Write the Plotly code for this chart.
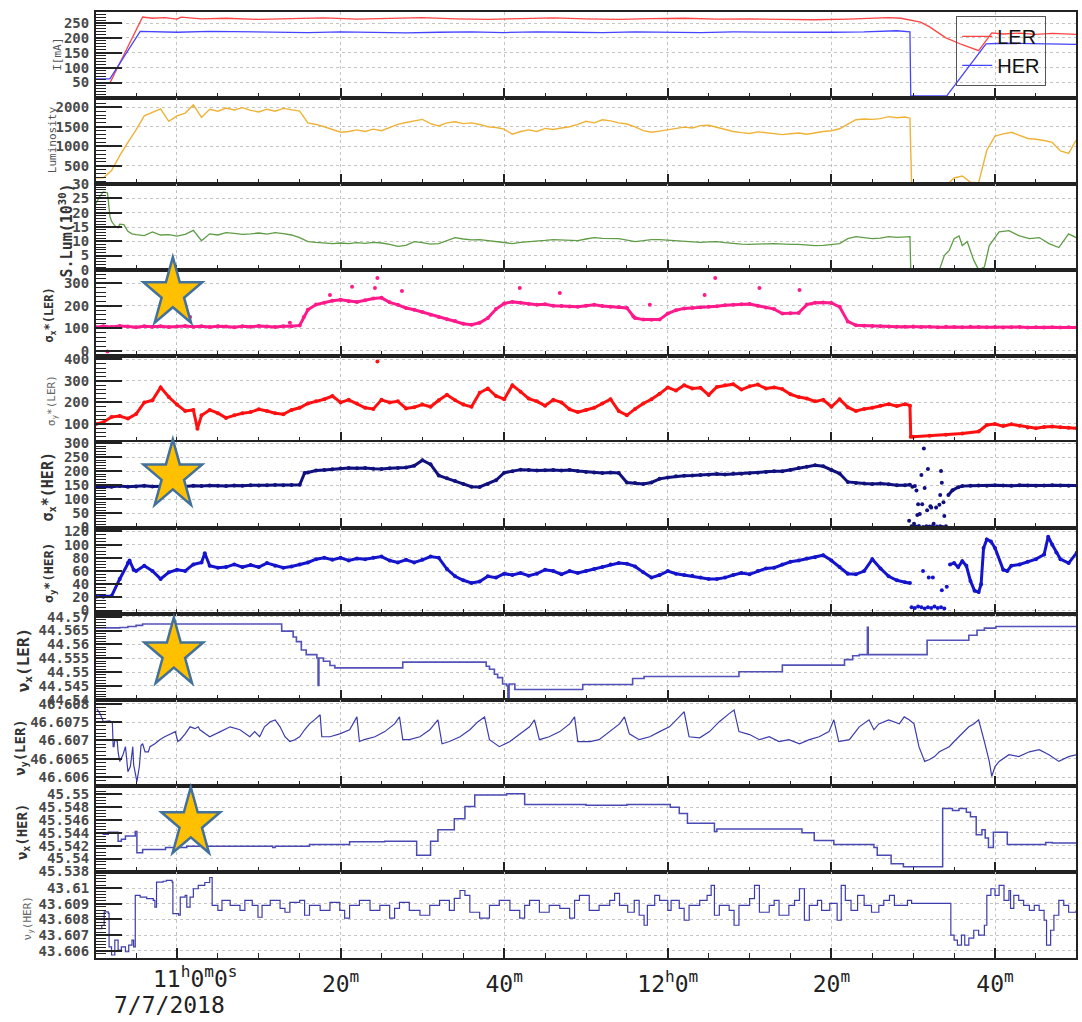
import math
import plotly.graph_objects as go
from plotly.subplots import make_subplots

# ---------------- data (time in minutes relative to 11:00, 7/7/2018) ----------------
CUR_LER = [(-9.9, 48), (-8.2, 48), (-4.2, 270), (-3.0, 266), (-1.5, 268), (0, 263), (0.5, 270), (3, 264), (6, 266),
           (10, 262), (14, 265), (18, 267), (22, 263), (26, 266), (30, 268), (34, 264), (38, 262), (42, 265), (46, 267),
           (50, 264), (54, 262), (58, 265), (62, 266), (66, 263), (70, 264), (74, 262), (78, 261), (82, 263), (85, 265),
           (87, 268), (88.5, 266), (90.9, 253), (92.0, 237), (94.0, 200), (96.0, 177), (98.0, 157), (99.6, 217),
           (101, 213), (103, 216), (105, 212), (107, 215), (109.9, 212)]
CUR_HER = [(-9.9, 62), (-8.2, 62), (-4.5, 222), (-3, 221), (0, 219), (4, 222), (8, 220), (12, 219), (16, 218), (20, 220),
           (24, 219), (28, 217), (32, 219), (36, 220), (40, 218), (44, 220), (48, 219), (52, 218), (56, 220), (60, 219),
           (64, 218), (68, 220), (72, 219), (76, 218), (80, 219), (84, 220), (86, 222), (88, 224), (89.6, 220),
           (89.7, 5), (94.1, 5), (98.9, 180), (101, 182), (105, 180), (109.9, 178)]

LUMI = [(-9.9, 195), (-9, 195), (-8, 380), (-7, 760), (-6, 1100), (-5, 1420), (-4, 1780), (-3, 1880), (-2, 1960),
        (-1, 1640), (0, 1780), (1, 1850), (2, 2060), (3, 1740), (4, 1950), (5, 1900), (6, 1980), (7, 1930), (8, 1990),
        (9, 1920), (10, 1880), (11, 1950), (12, 1900), (13, 1970), (14, 1940), (15, 1900), (16, 1600), (17, 1560),
        (18, 1500), (19, 1430), (20, 1360), (21, 1380), (22, 1420), (23, 1380), (24, 1440), (25, 1400), (26, 1480),
        (27, 1560), (28, 1610), (29, 1650), (30, 1690), (31, 1580), (32, 1520), (33, 1600), (34, 1630), (35, 1580),
        (36, 1600), (37, 1560), (38, 1500), (39, 1480), (40, 1440), (41, 1310), (42, 1380), (43, 1420), (44, 1380),
        (45, 1460), (46, 1430), (47, 1470), (48, 1500), (49, 1560), (50, 1640), (51, 1600), (52, 1680), (53, 1650),
        (54, 1600), (55, 1570), (56, 1500), (57, 1400), (58, 1360), (59, 1390), (60, 1420), (61, 1460), (62, 1490),
        (63, 1470), (64, 1530), (65, 1540), (66, 1480), (67, 1420), (68, 1380), (69, 1350), (70, 1330), (71, 1370),
        (72, 1350), (73, 1320), (74, 1300), (75, 1320), (76, 1340), (77, 1310), (78, 1350), (79, 1380), (80, 1400),
        (81, 1450), (82, 1570), (83, 1680), (84, 1700), (85, 1690), (86, 1710), (87, 1760), (88, 1730), (89, 1750),
        (89.6, 1720), (89.8, 70), (94.4, 70), (95, 190), (96, 240), (97, 80), (98, 70), (99, 900), (100, 1260),
        (101, 1320), (102, 1360), (103, 1280), (104, 1200), (105, 1180), (106, 1150), (107, 1100), (108, 880),
        (109, 820), (109.9, 1150)]

SLUM = [(-9.9, 23.2), (-9.5, 25.5), (-9, 27.3), (-8.5, 27), (-8.2, 18.8), (-8, 17), (-7.6, 15.4), (-7.2, 14.7),
        (-7, 16), (-6.5, 15.8), (-6, 13.5), (-5.5, 12.6), (-5, 12.3), (-4, 12), (-3, 13.3), (-2, 12.2), (-1, 12.3),
        (0, 11.8), (1, 12.4), (2, 13.8), (3, 10.2), (4, 12.6), (5, 12.2), (6, 13), (7, 12.8), (8, 12.4), (9, 12.6),
        (10, 12.9), (11, 12.5), (12, 13), (13, 12.7), (14, 12.2), (15, 11.3), (16, 9.9), (17, 9.6), (18, 9.3),
        (19, 9.2), (20, 9.4), (21, 9.2), (22, 9.5), (23, 9.3), (24, 9.6), (25, 9.4), (26, 8.9), (27, 8.2), (28, 8.6),
        (29, 9.9), (30, 9.5), (31, 9.0), (32, 9.2), (33, 10.2), (34, 11.3), (35, 10.8), (36, 10.5), (37, 10.6),
        (38, 10.2), (39, 9.9), (40, 9.4), (41, 9.2), (42, 9.6), (43, 9.8), (44, 9.9), (45, 10.3), (46, 10.6),
        (47, 10.4), (48, 10.2), (49, 10.2), (50, 10.8), (51, 11.3), (52, 11.0), (53, 10.9), (54, 10.9), (55, 10.4),
        (56, 9.9), (57, 10.2), (58, 10.6), (59, 10.6), (60, 10.4), (61, 10.2), (62, 10.0), (63, 9.7), (64, 9.6),
        (65, 9.8), (66, 9.9), (67, 9.5), (68, 9.2), (69, 9.0), (70, 8.9), (71, 8.9), (72, 9.1), (73, 9.2), (74, 9.0),
        (75, 8.9), (76, 8.9), (77, 8.7), (78, 8.5), (79, 8.6), (80, 9.0), (81, 9.2), (82, 10.9), (83, 11.6),
        (84, 11.3), (85, 10.9), (86, 11.1), (87, 11.6), (88, 11.4), (89, 11.6), (89.6, 11.6), (89.7, 0), (93.2, 0),
        (93.8, 5), (94.4, 6.8), (95, 10.9), (95.6, 11.9), (96, 8.5), (96.6, 9.9), (97.4, 3.4), (98, 0), (98.7, 1),
        (99.3, 8.5), (100.5, 13.3), (101.7, 13.7), (102.9, 12), (104.2, 10.9), (105.4, 11.3), (106.6, 9.2),
        (107.8, 7.8), (109, 12.6), (109.9, 11.3)]

SX_LER = [(-9.9, 104), (-9, 108), (-8, 105), (-7, 110), (-6, 107), (-5, 104), (-4, 109), (-3, 106), (-2, 108),
          (-1, 105), (0, 107), (1, 110), (2, 106), (3, 108), (4, 105), (5, 109), (6, 107), (7, 104), (8, 108), (9, 106),
          (10, 110), (11, 107), (12, 105), (13, 109), (14, 108), (15, 112), (15.5, 150), (16, 182), (17, 205),
          (18, 213), (19, 222), (20, 226), (21, 220), (22, 217), (23, 224), (24, 232), (25, 235), (26, 215), (27, 204),
          (28, 190), (29, 182), (30, 172), (31, 160), (32, 150), (33, 140), (34, 132), (35, 120), (36, 115), (37, 124),
          (38, 145), (39, 185), (40, 210), (41, 217), (42, 213), (43, 208), (44, 204), (45, 206), (46, 200), (47, 199),
          (48, 197), (49, 195), (50, 200), (51, 204), (52, 199), (53, 195), (54, 194), (55, 190), (55.8, 152),
          (56, 145), (57, 138), (58, 137), (59, 138), (60, 165), (61, 180), (62, 188), (63, 190), (64, 193), (65, 195),
          (66, 198), (67, 202), (68, 204), (69, 206), (70, 208), (71, 200), (72, 192), (73, 185), (74, 165), (75, 166),
          (76, 168), (77, 205), (78, 213), (79, 214), (80, 212), (81, 195), (82, 130), (83, 113), (84, 111), (85, 110),
          (86, 108), (87, 107), (88, 106), (89, 106), (90, 107), (91, 105), (92, 106), (93, 104), (94, 106), (95, 105),
          (96, 104), (97, 106), (98, 105), (99, 104), (100, 105), (101, 103), (102, 104), (103, 105), (104, 103),
          (105, 104), (106, 103), (107, 104), (108, 103), (109, 104), (110, 103)]
SX_LER_OUT = [(24.2, 279), (24.5, 323), (21.4, 284), (27.5, 266), (46.8, 257), (41.9, 279), (57.8, 204), (65.8, 323),
              (64.5, 248), (71.2, 279), (76.1, 270), (18.7, 248), (13.8, 124), (1.6, 150), (-8.5, -4)]

SY_LER = [(-9.9, 100), (-9, 108), (-8, 132), (-7, 137), (-6, 125), (-5, 146), (-4, 200), (-3, 210), (-2, 270),
          (-1, 225), (0, 190), (1, 160), (2, 165), (2.5, 78), (3, 140), (4, 165), (5, 150), (6, 128), (7, 140), (8, 150),
          (9, 155), (10, 168), (11, 160), (12, 150), (13, 145), (14, 165), (15, 175), (16, 195), (17, 205), (18, 215),
          (19, 230), (20, 200), (21, 212), (22, 195), (23, 175), (24, 170), (25, 212), (26, 200), (27, 205), (28, 172),
          (29, 178), (30, 190), (31, 180), (32, 210), (33, 236), (34, 210), (35, 190), (36, 180), (37, 245), (38, 265),
          (39, 230), (40, 215), (41, 280), (42, 250), (43, 218), (44, 205), (45, 185), (46, 212), (47, 200), (48, 168),
          (49, 155), (50, 165), (51, 175), (52, 195), (53, 215), (54, 160), (55, 140), (56, 170), (57, 195), (58, 215),
          (59, 240), (60, 270), (61, 255), (62, 280), (63, 265), (64, 268), (65, 235), (66, 272), (67, 280), (68, 285),
          (69, 260), (70, 275), (71, 283), (72, 265), (73, 270), (74, 262), (75, 238), (76, 225), (77, 218), (78, 205),
          (79, 212), (80, 180), (81, 215), (82, 178), (83, 160), (84, 170), (85, 175), (86, 185), (87, 192), (88, 183),
          (89, 192), (89.6, 185), (89.7, 40), (90, 40), (92, 45), (94, 50), (96, 56), (98, 65), (99, 95), (100, 100),
          (101, 90), (102, 98), (103, 92), (104, 84), (105, 80), (106, 86), (107, 88), (108, 85), (109, 82), (110, 80)]
SY_LER_OUT = [(24.5, 391)]

SX_HER = [(-9.9, 144), (-9, 146), (-8, 145), (-7, 147), (-6, 145), (-5, 146), (-4, 148), (-3, 146), (-2, 147),
          (-1, 148), (0, 147), (1, 146), (2, 148), (3, 147), (4, 149), (5, 148), (6, 147), (7, 149), (8, 148), (9, 150),
          (10, 149), (11, 150), (12, 151), (13, 150), (14, 151), (15, 152), (15.6, 194), (16, 196), (17, 203),
          (18, 205), (19, 207), (20, 210), (21, 212), (22, 211), (23, 212), (24, 209), (25, 208), (26, 211), (27, 212),
          (28, 214), (29, 220), (30, 240), (31, 225), (32, 185), (33, 175), (34, 165), (35, 155), (36, 145), (37, 144),
          (38, 155), (39, 168), (40, 195), (41, 200), (42, 206), (43, 205), (44, 203), (45, 204), (46, 205), (47, 203),
          (48, 205), (49, 201), (50, 198), (51, 196), (52, 194), (53, 196), (54, 194), (55, 160), (56, 158), (57, 155),
          (58, 160), (59, 173), (60, 178), (61, 182), (62, 184), (63, 185), (64, 187), (65, 188), (66, 190), (67, 189),
          (68, 191), (69, 191), (70, 193), (71, 195), (72, 198), (73, 200), (74, 200), (75, 205), (76, 212), (77, 216),
          (78, 222), (79, 218), (80, 205), (81, 192), (82, 162), (83, 158), (84, 156), (85, 155), (86, 156), (87, 154),
          (88, 150), (89, 150), (89.6, 152), (92, None), (94.3, 115), (94.8, 132), (95.5, 143), (96, 147), (97, 148),
          (98, 149), (99, 148), (100, 150), (101, 149), (102, 148), (103, 150), (104, 149), (105, 148), (106, 149),
          (107, 150), (108, 149), (109, 148), (110, 149)]
SX_HER_OUT = [(91.3, 282), (91.8, 208), (91.0, 187), (90.4, 131), (89.9, 145), (90.6, 82), (91.1, 82), (91.7, 61),
              (92.2, 70), (90.8, 47), (93.4, 201), (93.7, 89), (93.2, 80), (89.5, 23), (90.1, 12), (92.5, 12),
              (93.8, 40), (93.3, 115), (92.8, 70), (93.5, 159), (90.2, 147), (91.4, 140), (90.5, 44), (92.1, 75),
              (89.8, 3), (90.3, 2), (90.7, 4), (91.2, 1), (91.6, 3), (92.0, 2), (92.4, 4), (92.9, 2), (93.3, 3),
              (93.6, 1), (94.0, 3)]

SY_HER = [(-9.9, 21), (-9, 21), (-8, 22), (-7, 48), (-6, 72), (-5.8, 76), (-5.3, 62), (-5, 60), (-4, 68), (-3, 60),
          (-2, 48), (-1, 58), (0, 62), (1, 60), (2, 70), (3, 73), (3.4, 87), (4, 68), (5, 65), (6, 66), (7, 70),
          (8, 66), (9, 69), (10, 66), (11, 72), (12, 68), (13, 65), (14, 67), (15, 70), (16, 73), (17, 78), (18, 80),
          (19, 77), (20, 80), (21, 76), (22, 79), (23, 78), (24, 80), (25, 82), (26, 76), (27, 73), (28, 77), (29, 73),
          (30, 77), (31, 82), (32, 80), (33, 63), (34, 52), (35, 46), (36, 42), (37, 44), (38, 52), (39, 50), (40, 56),
          (41, 54), (42, 57), (43, 53), (44, 56), (45, 62), (46, 60), (47, 55), (48, 60), (49, 57), (50, 60), (51, 63),
          (52, 66), (53, 70), (54, 72), (55, 71), (56, 67), (57, 58), (58, 50), (59, 54), (60, 60), (61, 56), (62, 54),
          (63, 53), (64, 50), (65, 48), (66, 48), (67, 50), (68, 54), (69, 57), (70, 55), (71, 60), (72, 64), (73, 65),
          (74, 70), (75, 74), (76, 76), (77, 79), (78, 81), (79, 84), (80, 76), (81, 66), (82, 56), (83, 55), (84, 60),
          (85, 78), (86, 64), (87, 52), (88, 46), (89, 43), (89.6, 42), (92, None), (94.5, 70), (95, 72), (95.5, 66),
          (96, 75), (96.5, 68), (97, 45), (97.5, 30), (98, 28), (98.3, 40), (98.6, 95), (99, 108), (99.5, 105),
          (100, 95), (101, 62), (101.5, 60), (102, 68), (103, 70), (104, 74), (105, 78), (106, 85), (106.5, 112),
          (107, 100), (107.5, 88), (108, 78), (109, 72), (110, 88)]
SY_HER_OUT = [(91.2, 60), (91.9, 50), (92.4, 50), (93.5, 31), (94.1, 36), (89.8, 5), (90.2, 4), (90.6, 6),
              (91.0, 5), (91.4, 3), (91.8, 5), (92.2, 4), (92.6, 6), (93.0, 4), (93.4, 5), (93.8, 3)]

NUX_LER = [(-9.9, 44.5660), (-7.0, 44.5661), (-6.0, 44.5665), (-5.0, 44.5669), (-4.2, 44.5674), (12.8, 44.5648),
           (14.2, 44.5627), (14.6, 44.5610), (15.2, 44.5580), (15.8, 44.5563), (17.1, 44.5551), (17.25, 44.5452),
           (17.35, 44.5551), (17.9, 44.5539), (18.7, 44.5524), (19.3, 44.5515), (27.6, 44.5536), (37.8, 44.5521),
           (38.2, 44.5510), (38.8, 44.5492), (39.2, 44.5480), (39.8, 44.5457), (40.3, 44.5451), (40.45, 44.5400),
           (40.6, 44.5457), (41.3, 44.5437), (49.6, 44.5455), (55.7, 44.5477), (57.1, 44.5484), (68.7, 44.5501),
           (74.0, 44.5525), (81.6, 44.5545), (82.6, 44.5559), (83.4, 44.5563), (84.4, 44.5662), (84.5, 44.5563),
           (91.7, 44.5615), (96.8, 44.5633), (97.8, 44.5651), (98.7, 44.5659), (100.1, 44.5665), (109.9, 44.5665)]

NUY_LER = [(-9.8, 46.60786), (-9.4, 46.60773), (-9.0, 46.60751), (-8.4, 46.60751), (-8.2, 46.60753), (-7.9, 46.60748),
           (-7.8, 46.60683), (-7.7, 46.60683), (-7.6, 46.60702), (-7.3, 46.60697), (-7.2, 46.60669), (-7.0, 46.60643),
           (-6.6, 46.60661), (-6.3, 46.60683), (-6.1, 46.60643), (-6.0, 46.60615), (-5.7, 46.60629), (-5.4, 46.60683),
           (-5.3, 46.60634), (-5.0, 46.60602), (-4.9, 46.60588), (-4.6, 46.60629), (-4.4, 46.60686), (-4.2, 46.60691),
           (-3.9, 46.60669), (-3.5, 46.60669), (-3.3, 46.60683), (-2.7, 46.60691), (-2.1, 46.60702), (-1.5, 46.6071),
           (-0.9, 46.60716), (-0.2, 46.60724), (0.1, 46.60697), (0.4, 46.60702), (1.0, 46.60718), (1.6, 46.60737),
           (2.2, 46.60732), (2.6, 46.60737), (2.8, 46.60729), (4.0, 46.6071), (5.3, 46.60724), (6.5, 46.60737),
           (7.7, 46.60729), (8.9, 46.6071), (9.5, 46.60724), (10.1, 46.6071), (10.7, 46.60737), (11.4, 46.60751),
           (12.0, 46.60756), (12.6, 46.60737), (13.2, 46.6071), (13.8, 46.60697), (14.4, 46.60702), (15.0, 46.6071),
           (15.6, 46.60729), (16.2, 46.60745), (16.8, 46.60756), (17.5, 46.6077), (17.7, 46.6071), (18.7, 46.6071),
           (19.9, 46.60718), (21.1, 46.60729), (22.0, 46.60764), (22.3, 46.60697), (22.9, 46.60702), (24.2, 46.6071),
           (25.4, 46.60724), (26.6, 46.60745), (27.2, 46.60764), (27.6, 46.60702), (28.4, 46.60702), (29.7, 46.6071),
           (30.9, 46.60729), (31.9, 46.60756), (32.4, 46.60691), (33.3, 46.60697), (34.6, 46.6071), (35.8, 46.60729),
           (36.8, 46.60751), (37.6, 46.60764), (38.2, 46.60702), (39.4, 46.60683), (40.7, 46.60697), (41.9, 46.60718),
           (43.1, 46.60737), (43.7, 46.60756), (44.3, 46.60702), (45.5, 46.6071), (46.8, 46.60724), (48.0, 46.60745),
           (48.6, 46.60764), (49.0, 46.60697), (50.5, 46.60697), (51.6, 46.60702), (52.9, 46.60724), (54.1, 46.60745),
           (54.7, 46.60764), (55.3, 46.60718), (56.5, 46.60702), (57.8, 46.6071), (59.0, 46.60724), (60.2, 46.60737),
           (61.4, 46.60764), (62.0, 46.60778), (62.6, 46.6071), (63.9, 46.60707), (65.1, 46.60724), (66.3, 46.60751),
           (67.5, 46.60773), (68.1, 46.60783), (68.7, 46.60724), (70.0, 46.60716), (71.2, 46.60702), (72.4, 46.6071),
           (73.6, 46.60697), (74.8, 46.60702), (76.1, 46.60691), (77.3, 46.60702), (78.5, 46.6071), (79.7, 46.60724),
           (80.3, 46.60756), (80.9, 46.60697), (82.2, 46.60702), (83.4, 46.60737), (84.6, 46.60756), (85.2, 46.60729),
           (85.8, 46.60745), (87.0, 46.60756), (88.3, 46.60745), (88.9, 46.60764), (89.5, 46.60756), (90.1, 46.60745),
           (90.7, 46.60683), (91.4, 46.60643), (92.0, 46.60648), (92.6, 46.60656), (93.2, 46.60669), (93.8, 46.60675),
           (94.4, 46.60683), (95.0, 46.60697), (95.6, 46.6071), (96.2, 46.60724), (96.8, 46.60737), (97.4, 46.60745),
           (98.0, 46.60756), (98.7, 46.60697), (99.3, 46.60643), (99.6, 46.60602), (100.0, 46.60629),
           (100.5, 46.60643), (101.7, 46.60661), (102.9, 46.60656), (104.2, 46.60669), (105.4, 46.60675),
           (106.6, 46.60661), (107.8, 46.60643), (109.0, 46.60656), (109.9, 46.60661)]

NUX_HER = [(-9.9, 45.5440), (-9.0, 45.5438), (-8.4, 45.5441), (-7.2, 45.5427), (-6.8, 45.5430), (-6.3, 45.5435),
           (-5.1, 45.5442), (-4.9, 45.5409), (-4.2, 45.5414), (-1.4, 45.5417), (1.2, 45.5419), (11.7, 45.5417),
           (12.0, 45.5419), (16.2, 45.5422), (21.1, 45.5426), (25.4, 45.5427), (29.3, 45.5405), (31.0, 45.5427),
           (31.9, 45.5445), (33.9, 45.5462), (35.2, 45.5481), (36.4, 45.5499), (40.3, 45.5501), (42.5, 45.5484),
           (50.0, 45.5483), (55.0, 45.5484), (60.3, 45.5480), (61.4, 45.5470), (62.4, 45.5455), (65.7, 45.5442),
           (66.0, 45.5446), (76.4, 45.5440), (77.9, 45.5428), (80.3, 45.5422), (85.2, 45.5417), (85.6, 45.5405),
           (87.3, 45.5392), (88.8, 45.5387), (93.6, 45.5478), (94.8, 45.5475), (95.6, 45.5478), (96.5, 45.5472),
           (97.0, 45.5465), (97.7, 45.5437), (98.4, 45.5445), (98.8, 45.5432), (99.2, 45.5417), (99.8, 45.5441),
           (101.5, 45.5422), (106.2, 45.5425), (107.0, 45.5424), (109.9, 45.5424)]

NUY_HER = [(-9.8, 43.60742), (-9.2, 43.60763), (-8.9, 43.60848), (-8.4, 43.60839), (-8.3, 43.60625), (-8.0, 43.60573),
           (-7.6, 43.60668), (-7.2, 43.60604), (-6.8, 43.60625), (-6.3, 43.60594), (-5.9, 43.60636), (-5.5, 43.60668),
           (-5.3, 43.60625), (-5.1, 43.60954), (-4.5, 43.60943), (-3.7, 43.60933), (-2.9, 43.60922), (-2.7, 43.60879),
           (-2.5, 43.61038), (-1.7, 43.61044), (-1.3, 43.61049), (-0.6, 43.61038), (-0.5, 43.60837), (0.2, 43.60827),
           (0.4, 43.60943), (1.0, 43.60954), (1.2, 43.60879), (1.6, 43.60943), (2.0, 43.60996), (2.6, 43.61017),
           (3.4, 43.61036), (4.0, 43.61068), (4.3, 43.6089), (5.0, 43.60858), (5.5, 43.60922), (6.5, 43.6089),
           (7.7, 43.60858), (8.3, 43.60922), (9.2, 43.6089), (9.9, 43.60814), (10.4, 43.6089), (11.4, 43.60922),
           (12.6, 43.60871), (13.2, 43.60846), (13.8, 43.60909), (15.0, 43.60922), (15.6, 43.60827), (16.2, 43.6089),
           (17.5, 43.60858), (18.7, 43.60909), (19.9, 43.60858), (20.5, 43.60808), (21.1, 43.6089), (22.3, 43.60922),
           (23.6, 43.60858), (24.8, 43.6089), (26.0, 43.60808), (26.6, 43.60871), (27.2, 43.60909), (28.4, 43.60858),
           (29.7, 43.60827), (30.9, 43.6089), (32.1, 43.60922), (33.3, 43.60858), (33.9, 43.60934), (34.6, 43.60985),
           (35.2, 43.60954), (35.8, 43.60846), (37.0, 43.60808), (38.2, 43.6089), (39.4, 43.60922), (40.7, 43.60858),
           (41.9, 43.60808), (42.5, 43.6089), (43.1, 43.60922), (44.3, 43.60846), (45.5, 43.6089), (46.8, 43.60871),
           (48.0, 43.60808), (48.6, 43.60922), (49.2, 43.60954), (50.4, 43.60858), (51.6, 43.6089), (52.9, 43.60922),
           (53.5, 43.60966), (54.1, 43.6089), (55.1, 43.60846), (55.9, 43.60922), (56.5, 43.60827), (57.1, 43.60763),
           (57.5, 43.6089), (58.4, 43.60954), (59.0, 43.60922), (60.0, 43.60858), (60.4, 43.60922), (61.4, 43.60871),
           (62.0, 43.60795), (62.6, 43.6089), (63.9, 43.60922), (64.8, 43.60954), (65.3, 43.61017), (65.7, 43.60827),
           (66.3, 43.6089), (67.5, 43.60858), (68.1, 43.60763), (68.7, 43.6089), (70.0, 43.60933), (70.6, 43.61017),
           (71.2, 43.60846), (72.4, 43.6089), (73.0, 43.60922), (73.6, 43.60827), (74.8, 43.6089), (75.5, 43.60922),
           (76.1, 43.60996), (76.7, 43.60795), (77.3, 43.6089), (78.3, 43.60922), (78.8, 43.60858), (79.8, 43.60903),
           (80.7, 43.60795), (81.2, 43.61017), (81.7, 43.60922), (82.4, 43.60858), (83.2, 43.60954), (84.0, 43.6089),
           (84.9, 43.60846), (85.8, 43.6089), (86.4, 43.60922), (87.1, 43.60954), (87.7, 43.6089), (88.5, 43.6089),
           (89.3, 43.60922), (89.8, 43.60903), (94.6, 43.607), (95.0, 43.60668), (95.4, 43.60636), (95.9, 43.607),
           (96.3, 43.60636), (96.8, 43.60681), (97.4, 43.60731), (98.0, 43.607), (98.7, 43.60763), (99.0, 43.60954),
           (99.5, 43.60996), (100.0, 43.60954), (100.5, 43.61017), (101.1, 43.60922), (101.7, 43.60985),
           (101.9, 43.60871), (102.3, 43.60954), (102.9, 43.60922), (103.5, 43.6089), (104.2, 43.60858),
           (104.8, 43.6089), (105.4, 43.60858), (106.0, 43.60795), (106.3, 43.60636), (106.8, 43.60731),
           (107.2, 43.60827), (107.8, 43.60922), (108.4, 43.6089), (109.0, 43.60846), (109.9, 43.60858)]

X_TICKS = [0, 20, 40, 60, 80, 100]
X_TICKTEXT = ["", "20<sup>m</sup>", "40<sup>m</sup>", "12<sup>h</sup>0<sup>m</sup>", "20<sup>m</sup>", "40<sup>m</sup>"]

Y_TICKS = [
    [50, 100, 150, 200, 250],
    [500, 1000, 1500, 2000],
    [0, 5, 10, 15, 20, 25, 30],
    [0, 100, 200, 300],
    [100, 200, 300, 400],
    [0, 50, 100, 150, 200, 250, 300],
    [0, 20, 40, 60, 80, 100, 120],
    [44.54, 44.545, 44.55, 44.555, 44.56, 44.565, 44.57],
    [46.606, 46.6065, 46.607, 46.6075, 46.608],
    [45.538, 45.54, 45.542, 45.544, 45.546, 45.548, 45.55],
    [43.606, 43.607, 43.608, 43.609, 43.61],
]
Y_TICKTEXT = [
    ["50", "100", "150", "200", "250"],
    ["500", "1000", "1500", "2000"],
    ["0", "5", "10", "15", "20", "25", "30"],
    ["0", "100", "200", "300"],
    ["100", "200", "300", "400"],
    ["0", "50", "100", "150", "200", "250", "300"],
    ["0", "20", "40", "60", "80", "100", "120"],
    ["44.54", "44.545", "44.55", "44.555", "44.56", "44.565", "44.57"],
    ["46.606", "46.6065", "46.607", "46.6075", "46.608"],
    ["45.538", "45.54", "45.542", "45.544", "45.546", "45.548", "45.55"],
    ["43.606", "43.607", "43.608", "43.609", "43.61"],
]
Y_TITLES = ["I[mA]", "Luminosity", "S.Lum(10<sup>30</sup>)", "σ<sub>x</sub>*(LER)", "σ<sub>y</sub>*(LER)",
            "σ<sub>x</sub>*(HER)", "σ<sub>y</sub>*(HER)", "ν<sub>x</sub>(LER)", "ν<sub>y</sub>(LER)",
            "ν<sub>x</sub>(HER)", "ν<sub>y</sub>(HER)"]

# ---------------- layout geometry / styles ----------------
W, H = 1082, 1022
ML, MR, MT, MB = 96, 4, 5, 64
PW, PH = W - ML - MR, H - MT - MB

Y_RANGES = [[-2, 287], [35, 2237], [-0.05, 30.05], [-24, 359], [16, 416], [-3, 305], [-5.2, 125.3],
            [44.5399, 44.5710], [46.60576, 46.60810], [45.5379, 45.5513], [43.60554, 43.61103]]
Y_MINOR = [10, 100, 1, 20, 20, 10, 5, 0.001, 0.0001, 0.0005, 0.0002]
# title style: (x pixel, y pixel, size, bold, color)
TITLE_STYLE = [(58, 48, 11, False, "#555"), (52, 134, 11, False, "#555"), (66, 225, 15, True, "#333"),
               (50, 310, 12, True, "#333"), (52, 397, 11, False, "#666"), (48, 483, 15, True, "#333"),
               (50, 570, 13, True, "#333"), (24, 658, 16, True, "#333"), (20, 746, 14, True, "#333"),
               (23, 831, 14, True, "#333"), (28, 918, 11, False, "#666")]


def px2paper(x, y):
    return (x - ML) / PW, 1 - (y - MT) / PH


def unzip(pairs):
    return [p[0] for p in pairs], [p[1] for p in pairs]


fig = make_subplots(rows=11, cols=1, shared_xaxes=True, vertical_spacing=0)


def add_line(pairs, row, color, width, name=None, legend=False, shape="linear"):
    t, v = unzip(pairs)
    fig.add_trace(go.Scatter(x=t, y=v, mode="lines", name=name, showlegend=legend,
                             line=dict(color=color, width=width, shape=shape)), row=row, col=1)


def add_dots(pairs, row, color, width, size, outliers=None):
    t, v = unzip(pairs)
    fig.add_trace(go.Scatter(x=t, y=v, mode="lines+markers", showlegend=False,
                             line=dict(color=color, width=width),
                             marker=dict(color=color, size=size)), row=row, col=1)
    if outliers:
        ot, ov = unzip(outliers)
        fig.add_trace(go.Scatter(x=ot, y=ov, mode="markers", showlegend=False,
                                 marker=dict(color=color, size=size)), row=row, col=1)


add_line(CUR_LER, 1, "#ff4444", 1.3, "LER", True)
add_line(CUR_HER, 1, "#4444ff", 1.3, "HER", True)
add_line(LUMI, 2, "#f0b236", 1.4)
add_line(SLUM, 3, "#5e9c45", 1.3)
add_dots(SX_LER, 4, "#ff1a8c", 3, 4, SX_LER_OUT)
add_dots(SY_LER, 5, "#ff1010", 3, 4, SY_LER_OUT)
add_dots(SX_HER, 6, "#10107e", 3, 4, SX_HER_OUT)
add_dots(SY_HER, 7, "#1414cc", 3, 4, SY_HER_OUT)
add_line(NUX_LER, 8, "#5252b8", 1.6, shape="hv")
add_line(NUY_LER, 9, "#3c3cac", 1.2)
add_line(NUX_HER, 10, "#4a4ab4", 1.5, shape="hv")
add_line(NUY_HER, 11, "#3c3cac", 1.2, shape="hv")

AXIS_COL = "#222"
GRID_COL = "#c4c4c4"
for r in range(1, 12):
    fig.update_yaxes(row=r, col=1, range=Y_RANGES[r - 1], tickmode="array", tickvals=Y_TICKS[r - 1],
                     ticktext=Y_TICKTEXT[r - 1], showline=True, linecolor=AXIS_COL, linewidth=2, mirror=True,
                     ticks="inside", ticklen=26, tickwidth=2, tickcolor=AXIS_COL, showgrid=True,
                     gridcolor=GRID_COL, griddash="dot", gridwidth=1, zeroline=False,
                     tickfont=dict(family="DejaVu Sans Mono", size=14, color="#4a4a4a", weight="bold"),
                     ticklabelstandoff=2,
                     minor=dict(ticks="inside", ticklen=10, tickwidth=1.3, tickcolor=AXIS_COL,
                                tickmode="linear", tick0=0, dtick=Y_MINOR[r - 1], showgrid=False))
    fig.update_xaxes(row=r, col=1, range=[-9.9, 109.9], tickmode="array", tickvals=X_TICKS,
                     ticktext=X_TICKTEXT, showticklabels=(r == 11), showline=True, linecolor=AXIS_COL,
                     linewidth=2, mirror=True, ticks="inside", ticklen=10, tickwidth=2, tickcolor=AXIS_COL,
                     showgrid=True, gridcolor=GRID_COL, griddash="dot", gridwidth=1, zeroline=False,
                     tickfont=dict(family="DejaVu Sans Mono", size=23, color="#222"),
                     ticklabelstandoff=4,
                     minor=dict(ticks="inside", ticklen=5, tickwidth=1.3, tickcolor=AXIS_COL,
                                tickmode="linear", tick0=0, dtick=5, showgrid=False))

annotations = []
for i, (txt, (px, py, fs, bold, col)) in enumerate(zip(Y_TITLES, TITLE_STYLE)):
    ax, ay = px2paper(px, py)
    annotations.append(dict(text=txt, x=ax, y=ay, xref="paper", yref="paper", xanchor="center",
                            yanchor="middle", textangle=-90, showarrow=False,
                            font=dict(family="DejaVu Sans Mono", size=fs, color=col,
                                      weight="bold" if bold else "normal")))

# first x tick label and date
lx, ly = px2paper(196, 960)
annotations.append(dict(text="11<sup>h</sup>0<sup>m</sup>0<sup>s</sup>", x=lx, y=ly, xref="paper", yref="paper",
                        xanchor="center", yanchor="top", showarrow=False,
                        font=dict(family="DejaVu Sans Mono", size=23, color="#222")))
dx, dy = px2paper(170, 990)
annotations.append(dict(text="7/7/2018", x=dx, y=dy, xref="paper", yref="paper", xanchor="center",
                        yanchor="top", showarrow=False,
                        font=dict(family="DejaVu Sans Mono", size=23, color="#222")))


def star_path(cx, cy, rx, ry):
    pts = []
    for i in range(10):
        a = math.radians(-90 + 36 * i)
        f = 1.0 if i % 2 == 0 else 0.382
        X, Y = px2paper(cx + rx * f * math.cos(a), cy + ry * f * math.sin(a))
        pts.append(f"{X:.5f},{Y:.5f}")
    return "M " + " L ".join(pts) + " Z"


STAR_CENTERS = [(173, 288.5), (173, 472), (174, 651.5), (191, 822.5)]
shapes = [dict(type="path", path=star_path(cx, cy, 31, 36.5), xref="paper", yref="paper",
               fillcolor="#ffc000", line=dict(color="#41719c", width=2.5), layer="above")
          for cx, cy in STAR_CENTERS]

lgx, lgy = px2paper(958, 9)
fig.update_layout(width=W, height=H, margin=dict(l=ML, r=MR, t=MT, b=MB),
                  paper_bgcolor="white", plot_bgcolor="white",
                  annotations=annotations, shapes=shapes,
                  legend=dict(x=lgx, y=lgy, xanchor="left", yanchor="top", bgcolor="rgba(0,0,0,0)",
                              bordercolor="#555", borderwidth=1,
                              font=dict(family="Liberation Sans", size=20, color="#111"),
                              itemwidth=30, tracegroupgap=0))

fig.write_html("out.html")
